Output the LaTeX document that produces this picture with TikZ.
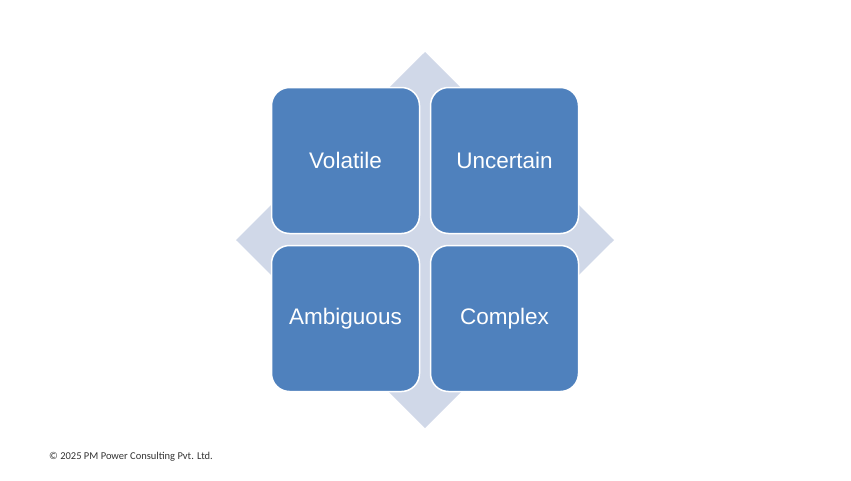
\documentclass[tikz,border=0pt]{standalone}
\usepackage{fontspec}
\setmainfont{Liberation Sans}
\newfontfamily\footfont{Carlito}
\definecolor{boxblue}{HTML}{4F81BD}
\definecolor{diam}{HTML}{D0D8E8}
\begin{document}
\begin{tikzpicture}[x=1pt,y=-1pt,
  quad/.style={draw=white,line width=1.5pt,fill=boxblue,rounded corners=18pt,minimum width=148pt,minimum height=146pt,text=white,font=\fontsize{22.5}{26}\selectfont,inner sep=0pt}]
\useasboundingbox (0,0) rectangle (851,480);
\fill[diam] (425,52) -- (614,240) -- (425,428) -- (236,240) -- cycle;
\node[quad] (v) at (345.5,160.5) {Volatile};
\node[quad] (u) at (504.5,160.5) {Uncertain};
\node[quad] (a) at (345.5,318.5) {Ambiguous};
\node[quad] (c) at (504.5,318.5) {Complex};
\node[anchor=west,inner sep=0pt,font=\footfont\fontsize{10.5}{12}\selectfont,text=black!80] (f) at (49,457) {© 2025 PM Power Consulting Pvt. Ltd.};
\end{tikzpicture}
\end{document}
